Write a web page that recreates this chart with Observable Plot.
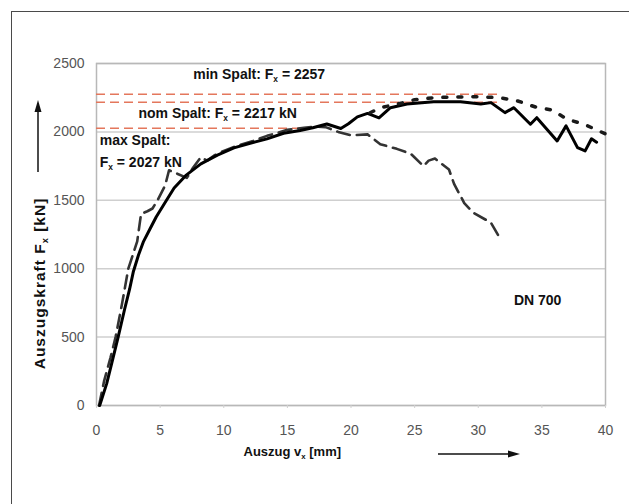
<!DOCTYPE html>
<html><head><meta charset="utf-8">
<script src="https://cdn.jsdelivr.net/npm/d3@7"></script>
<script src="https://cdn.jsdelivr.net/npm/@observablehq/plot@0.6"></script>
<style>
body{margin:0;background:#fff;}
#wrap{position:relative;width:629px;height:504px;overflow:hidden;background:#fff;}
#border{position:absolute;left:11px;top:11px;width:700px;height:600px;border-left:1.5px solid #4a4a4a;border-top:1.5px solid #4a4a4a;}
#chart{position:absolute;left:0;top:0;}
</style></head><body><div id="wrap"><div id="border"></div><div id="chart"></div></div>
<script>
// Axis ticks
const xTicks = [0, 5, 10, 15, 20, 25, 30, 35, 40];
const yTicks = [0, 500, 1000, 1500, 2000, 2500];

// Solid curve (nom Spalt)
const solidX = [0.25,0.8,1.2,1.7,2.2,2.6,2.9,3.3,3.7,4.2,4.7,5.5,6.1,7.0,8.2,9.5,10.8,12.0,13.4,14.7,16.0,17.0,18.1,19.2,19.8,20.5,21.3,22.2,23.1,24.4,26.5,28.6,30.2,31.0,32.1,32.8,34.1,34.6,36.2,36.9,37.8,38.4,38.9,39.3];
const solidY = [0,160,310,500,700,850,980,1100,1200,1290,1380,1500,1590,1680,1766,1830,1883,1915,1949,1990,2010,2030,2058,2025,2060,2110,2135,2102,2177,2204,2221,2221,2204,2214,2141,2177,2056,2104,1934,2044,1885,1861,1950,1925];

// Long-dashed curve (max Spalt)
const dashX = [0.2,0.6,1.1,1.5,2.0,2.5,3.2,3.5,4.0,4.4,4.8,5.4,5.7,6.2,7.1,7.6,8.2,8.7,9.3,10.0,11.0,12.3,13.4,15.0,16.3,17.2,18.0,19.0,20.0,21.3,22.3,23.6,24.7,25.7,26.1,26.6,27.7,28.1,28.9,29.6,31.0,31.6];
const dashY = [0,180,350,500,740,1000,1200,1400,1420,1440,1500,1610,1720,1700,1664,1740,1815,1790,1830,1861,1898,1934,1971,2015,2030,2040,2035,2000,1975,1982,1910,1876,1840,1750,1790,1805,1725,1620,1480,1410,1336,1240];

// Dotted curve (min Spalt)
const dotX = [21.5,22.3,23.5,25.0,26.5,28.0,30.0,31.7,33.1,34.5,35.8,37.0,38.3,39.5,40.0];
const dotY = [2140,2177,2200,2235,2250,2255,2257,2250,2226,2182,2160,2092,2056,2007,1985];

// Reference lines (red dashed)
const refY = [2275, 2217, 2027];
const refEnd = [31.7, 31.7, 17];

// Annotations
const noteText = ["min Spalt: F_x = 2257", "nom Spalt: F_x = 2217 kN", "max Spalt:", "F_x = 2027 kN", "DN 700"];
const noteX = [7.6, 3.3, 0.25, 0.25, 32.8];
const noteY = [2423, 2131, 1934, 1774, 766];

const xTitle = "Auszug v_x [mm]";
const yTitle = "Auszugskraft F_x [kN]";

const toPts = (xs, ys) => xs.map((x, i) => ({x, y: ys[i]}));
const refs = refY.map((y, i) => ({y, x2: refEnd[i]}));
const notes = noteText.map((t, i) => ({t, x: noteX[i], y: noteY[i]}));

const font = "'Liberation Sans', Arial, sans-serif";

const plot = Plot.plot({
  width: 629, height: 504,
  marginLeft: 96, marginRight: 24, marginTop: 63, marginBottom: 99,
  style: {fontFamily: font, fontSize: "14px", background: "transparent", overflow: "visible"},
  x: {domain: [0, 40]},
  y: {domain: [0, 2500]},
  marks: [
    Plot.gridY(yTicks, {stroke: "#cfcfcf", strokeOpacity: 1, strokeWidth: 1.5}),
    Plot.frame({stroke: "#b8b8b8", strokeWidth: 1.5}),
    Plot.axisX(xTicks, {tickSize: 3, stroke: "#d0d0d0", fill: "#555", tickPadding: 17, label: null, fontSize: 14, tickFormat: d3.format("d")}),
    Plot.axisY(yTicks, {tickSize: 0, tickPadding: 12, fill: "#555", label: null, fontSize: 14, tickFormat: d3.format("d")}),
    Plot.ruleY(refs, {y: "y", x1: 0, x2: "x2", stroke: "#e4775c", strokeWidth: 1.6, strokeDasharray: "9,5"}),
    Plot.line(toPts(dashX, dashY), {x: "x", y: "y", stroke: "#333", strokeWidth: 2.6, strokeDasharray: "13,7"}),
    Plot.line(toPts(solidX, solidY), {x: "x", y: "y", stroke: "#000", strokeWidth: 3}),
    Plot.line(toPts(dotX, dotY), {x: "x", y: "y", stroke: "#1a1a1a", strokeWidth: 3.5, strokeDasharray: "4,11"}),
    Plot.text(notes, {x: "x", y: "y", text: "t", textAnchor: "start", fontWeight: "bold", fill: "#111", fontSize: 14}),
    Plot.text([xTitle], {frameAnchor: "bottom-left", dx: 147, dy: 50, textAnchor: "start", fontWeight: "bold", fill: "#111", fontSize: 13}),
    Plot.text([yTitle], {frameAnchor: "left", dx: -56, dy: 49, rotate: -90, textAnchor: "middle", fontWeight: "bold", fill: "#111", fontSize: 15.5, className: "ytitle"})
  ]
});

// subscripts
d3.select(plot).selectAll("text").each(function() {
  const t = this.textContent;
  if (!t.includes("_x")) return;
  const [a, b] = t.split("_x");
  const s = d3.select(this);
  s.text(null);
  s.append("tspan").text(a);
  s.append("tspan").attr("font-size", "0.6em").attr("dy", 3).text("x");
  s.append("tspan").attr("dy", -3).text(b);
});
d3.select(plot).selectAll("g.ytitle text").style("letter-spacing", "1px");

// arrows
const svg = d3.select(plot);
const g = svg.append("g").attr("fill", "#111").attr("stroke", "#111");
g.append("line").attr("x1", 38).attr("x2", 38).attr("y1", 172).attr("y2", 108).attr("stroke-width", 1.5);
g.append("polygon").attr("points", "38,100 34.5,112 41.5,112").attr("stroke", "none");
g.append("line").attr("x1", 438).attr("x2", 512).attr("y1", 454).attr("y2", 454).attr("stroke-width", 1.5);
g.append("polygon").attr("points", "520,454 508,450.5 508,457.5").attr("stroke", "none");

document.getElementById("chart").appendChild(plot);
</script>
</body></html>
